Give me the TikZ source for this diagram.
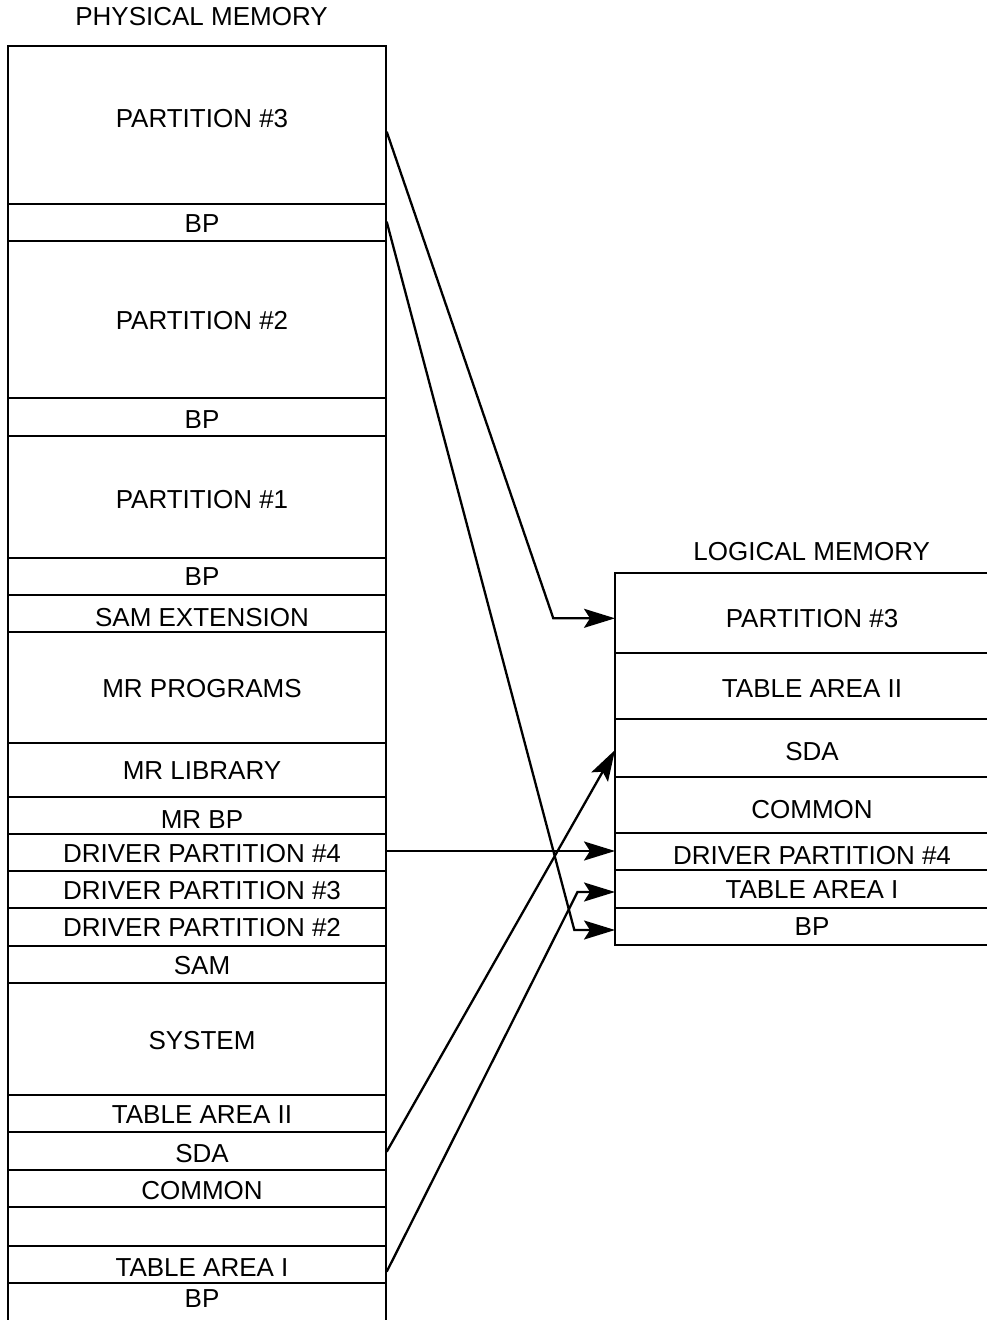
\documentclass[tikz,border=0pt]{standalone}
\usepackage{fontspec}
\setmainfont{Liberation Sans}
\usetikzlibrary{arrows.meta}

\newcommand{\memfont}{\fontsize{13}{15}\selectfont}

\begin{document}
\begin{tikzpicture}[%
        > = {Stealth[length = 15.5pt, width = 9.5pt, inset = 3pt]},
        line width = 1.15pt,
        line cap = butt,
        x = 0.5pt,
        y = -0.5pt,
        lbl/.style = {%
            font = \memfont,
            text height = 9.3pt,
            text depth = 0pt,
            inner sep = 0pt
        }
    ]

        % Fix the size of the page.
        \useasboundingbox (0, 0) rectangle (986, 1320);

        % Coordinates
        \coordinate (p3_out) at (386.7, 131.7);
        \coordinate (bp_out) at (386.7, 221.7);
        \coordinate (dp4_out) at (386.7, 851);
        \coordinate (sda_out) at (386.7, 1151.7);
        \coordinate (ta1_out) at (386.7, 1271.7);
        \coordinate (p3_bend) at (553.3, 618.3);
        \coordinate (bp_bend) at (574.3, 930);
        \coordinate (ta1_bend) at (577.5, 892);
        \coordinate (p3_in) at (615, 618.3);
        \coordinate (sda_in) at (615, 750);
        \coordinate (dp4_in) at (615, 851);
        \coordinate (ta1_in) at (615, 892);
        \coordinate (bp_in) at (615, 930);

        % Physical memory: outline and dividers.
        \draw (8, 1324) -- (8, 45.7) -- (386, 45.7) -- (386, 1324);
        \draw (8, 203.7) -- (386, 203.7) (8, 241) -- (386, 241)
              (8, 398) -- (386, 398) (8, 435.7) -- (386, 435.7)
              (8, 558) -- (386, 558) (8, 595) -- (386, 595)
              (8, 632) -- (386, 632) (8, 743) -- (386, 743)
              (8, 796.7) -- (386, 796.7) (8, 833.7) -- (386, 833.7)
              (8, 871) -- (386, 871) (8, 908.3) -- (386, 908.3)
              (8, 945.7) -- (386, 945.7) (8, 983) -- (386, 983)
              (8, 1095.3) -- (386, 1095.3) (8, 1132.3) -- (386, 1132.3)
              (8, 1169.7) -- (386, 1169.7) (8, 1207) -- (386, 1207)
              (8, 1245.7) -- (386, 1245.7) (8, 1283) -- (386, 1283);

        % Logical memory: outline and dividers.
        \draw (992, 573) -- (615, 573) -- (615, 945) -- (992, 945);
        \draw (615, 652.7) -- (992, 652.7) (615, 719) -- (992, 719)
              (615, 777) -- (992, 777) (615, 832.7) -- (992, 832.7)
              (615, 870) -- (992, 870) (615, 907.7) -- (992, 907.7);

        % Titles.
        \node[lbl] (phys) at (201.5, 16.3) {PHYSICAL MEMORY};
        \node[lbl] (logi) at (811.7, 550.8) {LOGICAL MEMORY};

        % Labels for the physical memory.
        \node[lbl] (pp3) at (202, 117.8) {PARTITION \#3};
        \node[lbl] (pbp3) at (202, 223.3) {BP};
        \node[lbl] (pp2) at (202, 320.3) {PARTITION \#2};
        \node[lbl] (pbp2) at (202, 419) {BP};
        \node[lbl] (pp1) at (202, 499) {PARTITION \#1};
        \node[lbl] (pbp1) at (202, 576.2) {BP};
        \node[lbl] (psamx) at (202, 617.5) {SAM EXTENSION};
        \node[lbl] (pmrp) at (202, 688.3) {MR PROGRAMS};
        \node[lbl] (pmrl) at (202, 769.7) {MR LIBRARY};
        \node[lbl] (pmrbp) at (202, 818.8) {MR BP};
        \node[lbl] (pdp4) at (202, 853) {DRIVER PARTITION \#4};
        \node[lbl] (pdp3) at (202, 889.7) {DRIVER PARTITION \#3};
        \node[lbl] (pdp2) at (202, 927) {DRIVER PARTITION \#2};
        \node[lbl] (psam) at (202, 965) {SAM};
        \node[lbl] (psys) at (202, 1039.7) {SYSTEM};
        \node[lbl] (pta2) at (202, 1114.2) {TABLE AREA II};
        \node[lbl] (psda) at (202, 1153.3) {SDA};
        \node[lbl] (pcom) at (202, 1190.5) {COMMON};
        \node[lbl] (pta1) at (202, 1266.7) {TABLE AREA I};
        \node[lbl] (pbp0) at (202, 1298) {BP};

        % Labels for the logical memory.
        \node[lbl] (lp3) at (812, 617.8) {PARTITION \#3};
        \node[lbl] (lta2) at (812, 688.2) {TABLE AREA II};
        \node[lbl] (lsda) at (812, 751.5) {SDA};
        \node[lbl] (lcom) at (812, 809.2) {COMMON};
        \node[lbl] (ldp4) at (812, 855.5) {DRIVER PARTITION \#4};
        \node[lbl] (lta1) at (812, 889.2) {TABLE AREA I};
        \node[lbl] (lbp) at (812, 926.5) {BP};

        % Draw the mapping arrows.
        \begin{scope}[->]
            \draw (p3_out) -- (p3_bend) -- (p3_in);
            \draw (bp_out) -- (bp_bend) -- (bp_in);
            \draw (dp4_out) -- (dp4_in);
            \draw (sda_out) -- (sda_in);
            \draw (ta1_out) -- (ta1_bend) -- (ta1_in);
        \end{scope}
    \end{tikzpicture}
\end{document}
